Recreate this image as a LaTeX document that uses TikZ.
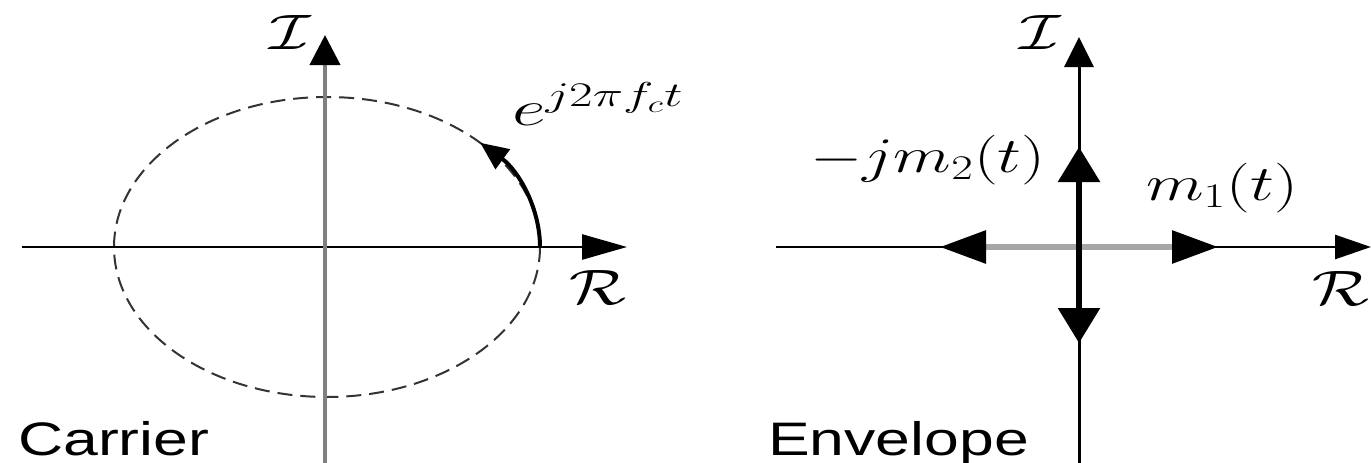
\documentclass[tikz,border=0pt]{standalone}
\usepackage{fontspec}
\setsansfont{Liberation Sans}
\usetikzlibrary{arrows.meta}
\begin{document}
\begin{tikzpicture}[x=1pt,y=-1pt,
  lbl/.style={inner sep=0pt, font=\fontsize{24}{26}\selectfont, xscale=2.7, yscale=2},
  txt/.style={inner sep=0pt, font=\sffamily\fontsize{47}{50}\selectfont, xscale=1.33, anchor=base west},
  thinaxis/.style={line width=2.6pt, black},
  grayaxis/.style={line width=4pt, black!50},
  ellip/.style={line width=2pt, black!80, dash pattern=on 15pt off 8pt},
  arcarrow/.style={line width=4pt, black, -{Triangle[length=28pt,width=24pt]}},
  grayvec/.style={line width=6pt, black!35, -{Triangle[length=46pt,width=32pt,color=black]}},
  blackvec/.style={line width=6pt, black, -{Triangle[length=35pt,width=41pt]}}]
\useasboundingbox (0,0) rectangle (1371,463);
% ---------- Carrier ----------
\coordinate (LO) at (327,247);
\coordinate (Lw) at (22,247);
\coordinate (Le) at (627,247);
\coordinate (Ls) at (325,463);
\coordinate (Ln) at (325,35);
\coordinate (Lstart) at (540,247);
\draw[ellip] (LO) ellipse [x radius=213, y radius=150];
\draw[thinaxis, -{Triangle[length=45pt,width=25pt]}] (Lw) -- (Le);
\draw[grayaxis, -{Triangle[length=30pt,width=30pt,color=black]}] (Ls) -- (Ln);
\draw[arcarrow] (Lstart) arc[start angle=0, end angle=-44, x radius=213, y radius=150];
\node[lbl] (LI) at (290,32) {$\mathcal{I}$};
\node[lbl] (LR) at (598,287) {$\mathcal{R}$};
\node[lbl, xscale=1.1] (Lexp) at (598,104) {$e^{j2\pi f_c t}$};
\node[txt] (Lcar) at (18,455) {Carrier};
% ---------- Envelope ----------
\coordinate (RO) at (1079,247);
\coordinate (Rw) at (776,247);
\coordinate (Re) at (1371,247);
\coordinate (Rs) at (1079,463);
\coordinate (Rn) at (1079,37);
\coordinate (Rleft) at (940,247);
\coordinate (Rright) at (1218,247);
\coordinate (Rup) at (1079,147);
\coordinate (Rdown) at (1079,343);
\draw[thinaxis, -{Triangle[length=36pt,width=24pt]}] (Rw) -- (Re);
\draw[line width=3pt, black, -{Triangle[length=30pt,width=29pt]}] (Rs) -- (Rn);
\draw[grayvec] (RO) -- (Rleft);
\draw[grayvec] (RO) -- (Rright);
\draw[blackvec] (RO) -- (Rup);
\draw[blackvec] (RO) -- (Rdown);
\node[lbl] (RI) at (1040,32) {$\mathcal{I}$};
\node[lbl] (Rm2) at (928,160) {$-jm_2(t)$};
\node[lbl] (Rm1) at (1222,188) {$m_1(t)$};
\node[lbl] (RR) at (1341,288) {$\mathcal{R}$};
\node[txt] (Renv) at (768,455) {Envelope};
\end{tikzpicture}
\end{document}
